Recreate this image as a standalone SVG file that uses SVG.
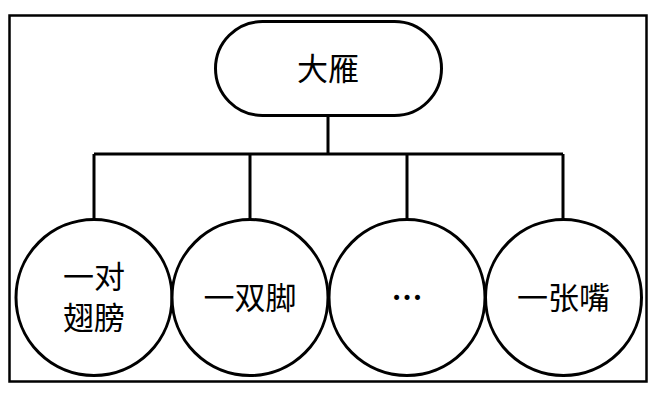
<svg xmlns="http://www.w3.org/2000/svg" width="654" height="400" viewBox="0 0 654 400">
<style>
.s{fill:#fff;stroke:#000;stroke-width:3}
.c{fill:none;stroke:#000;stroke-width:3}
.t{font-family:"Liberation Serif","Noto Sans CJK SC",serif;font-size:31px;fill:#000;text-anchor:middle;dominant-baseline:central}
</style>
<rect x="9.5" y="15.5" width="637" height="366" fill="#fff" stroke="#000" stroke-width="2.5"/>
<g id="connectors">
<path class="c" d="M328,116V154M94,154H563M94,154V219M250,154V219M407,154V219M563,154V219"/>
</g>
<g id="n0"><rect class="s" x="215.5" y="21.5" width="226" height="94" rx="47"/><text class="t" x="328" y="69">大雁</text></g>
<g id="n1"><circle class="s" cx="94" cy="297.5" r="78"/><text class="t" x="94" y="277">一对</text><text class="t" x="94" y="318">翅膀</text></g>
<g id="n2"><circle class="s" cx="250" cy="297.5" r="78"/><text class="t" x="250" y="298">一双脚</text></g>
<g id="n3"><circle class="s" cx="407" cy="297.5" r="78"/><text class="t" x="407" y="289" font-weight="bold" font-size="30">…</text></g>
<g id="n4"><circle class="s" cx="563.5" cy="297.5" r="78"/><text class="t" x="563.5" y="298">一张嘴</text></g>
</svg>
